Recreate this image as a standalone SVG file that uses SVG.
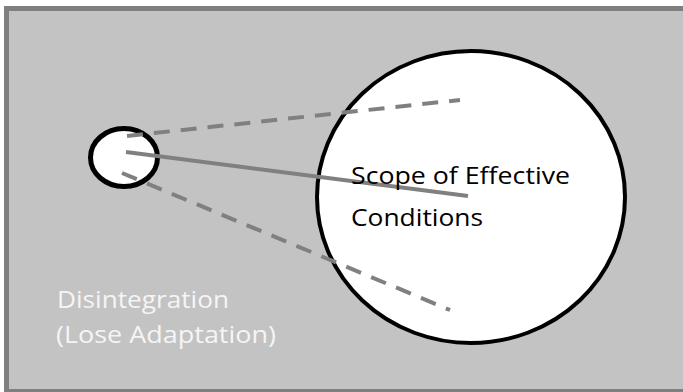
<svg xmlns="http://www.w3.org/2000/svg" width="683" height="392" viewBox="0 0 683 392">
  <style>
    .bg { fill: #c3c3c3; stroke: #7f7f7f; stroke-width: 5; }
    .node { fill: #ffffff; stroke: #000000; }
    .conn { stroke: #808080; stroke-width: 4; fill: none; stroke-linecap: butt; }
    .dash { stroke-dasharray: 16 11; }
    .dark { font-family: "Open Sans", "Noto Sans", "DejaVu Sans", sans-serif; font-size: 24px; fill: #000000; }
    .light { font-family: "Open Sans", "Noto Sans", "DejaVu Sans", sans-serif; font-size: 24px; fill: #f5f5f5; }
  </style>
  <rect x="0" y="0" width="683" height="392" fill="#ffffff"/>
  <rect class="bg" x="6.5" y="8.5" width="700" height="383"/>
  <g id="scope">
    <ellipse class="node" cx="471" cy="197" rx="154" ry="146" stroke-width="4"/>
  </g>
  <g id="system">
    <ellipse class="node" cx="124" cy="157.5" rx="33.5" ry="29" stroke-width="5"/>
  </g>
  <g id="connectors">
    <line class="conn dash" x1="127" y1="136" x2="460" y2="100"/>
    <line class="conn" x1="126" y1="152" x2="468" y2="196"/>
    <line class="conn dash" x1="122" y1="173" x2="450" y2="310"/>
  </g>
  <g id="labels">
    <text class="dark" x="351" y="184" textLength="219" lengthAdjust="spacingAndGlyphs">Scope of Effective</text>
    <text class="dark" x="351" y="226" textLength="132" lengthAdjust="spacingAndGlyphs">Conditions</text>
    <text class="light" x="57" y="308" textLength="172" lengthAdjust="spacingAndGlyphs">Disintegration</text>
    <text class="light" x="56" y="343" textLength="220" lengthAdjust="spacingAndGlyphs">(Lose Adaptation)</text>
  </g>
</svg>
